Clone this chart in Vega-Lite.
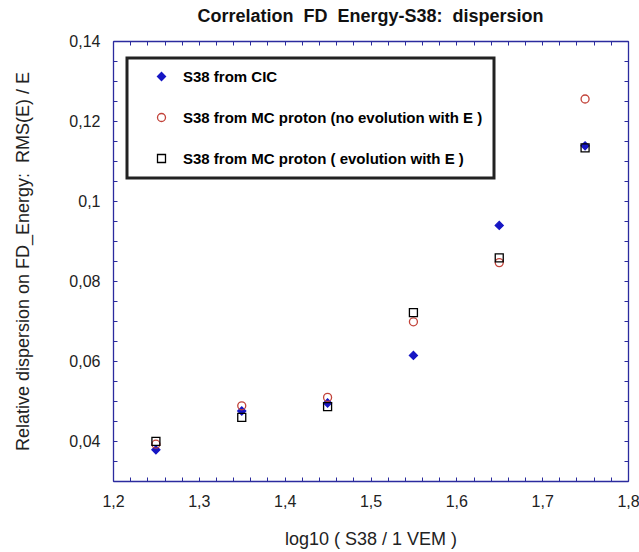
{
  "$schema": "https://vega.github.io/schema/vega-lite/v6.json",
  "width": 515,
  "height": 440,
  "autosize": "none",
  "padding": {"left": 113, "top": 41, "right": 11, "bottom": 71},
  "background": "white",
  "title": {
    "text": "Correlation\u00a0 FD\u00a0 Energy-S38:\u00a0 dispersion",
    "font": "Liberation Sans",
    "fontSize": 18,
    "fontWeight": "bold",
    "color": "#111111",
    "offset": 21,
    "dy": 28,
    "anchor": "middle",
    "baseline": "alphabetic"
  },
  "data": {
    "values": [
      {"series": "S38 from CIC", "x": 1.25, "y": 0.0378},
      {"series": "S38 from CIC", "x": 1.35, "y": 0.0475},
      {"series": "S38 from CIC", "x": 1.45, "y": 0.0495},
      {"series": "S38 from CIC", "x": 1.55, "y": 0.0614},
      {"series": "S38 from CIC", "x": 1.65, "y": 0.0939},
      {"series": "S38 from CIC", "x": 1.75, "y": 0.1138},
      {"series": "S38 from MC proton (no evolution with E )", "x": 1.25, "y": 0.0392},
      {"series": "S38 from MC proton (no evolution with E )", "x": 1.35, "y": 0.0488},
      {"series": "S38 from MC proton (no evolution with E )", "x": 1.45, "y": 0.0509},
      {"series": "S38 from MC proton (no evolution with E )", "x": 1.55, "y": 0.0698},
      {"series": "S38 from MC proton (no evolution with E )", "x": 1.65, "y": 0.0846},
      {"series": "S38 from MC proton (no evolution with E )", "x": 1.75, "y": 0.1255},
      {"series": "S38 from MC proton ( evolution with E )", "x": 1.25, "y": 0.0399},
      {"series": "S38 from MC proton ( evolution with E )", "x": 1.35, "y": 0.0459},
      {"series": "S38 from MC proton ( evolution with E )", "x": 1.45, "y": 0.0486},
      {"series": "S38 from MC proton ( evolution with E )", "x": 1.55, "y": 0.0721},
      {"series": "S38 from MC proton ( evolution with E )", "x": 1.65, "y": 0.0858},
      {"series": "S38 from MC proton ( evolution with E )", "x": 1.75, "y": 0.1133}
    ]
  },
  "encoding": {
    "shape": {
      "field": "series", "type": "nominal",
      "scale": {"domain": ["S38 from CIC", "S38 from MC proton (no evolution with E )", "S38 from MC proton ( evolution with E )"], "range": ["diamond", "circle", "square"]},
      "legend": {"title": null}
    },
    "stroke": {
      "field": "series", "type": "nominal",
      "scale": {"domain": ["S38 from CIC", "S38 from MC proton (no evolution with E )", "S38 from MC proton ( evolution with E )"], "range": ["#1616c4", "#c2433a", "#000000"]},
      "legend": {"title": null}
    },
    "fill": {
      "field": "series", "type": "nominal",
      "scale": {"domain": ["S38 from CIC", "S38 from MC proton (no evolution with E )", "S38 from MC proton ( evolution with E )"], "range": ["#1616c4", "transparent", "transparent"]},
      "legend": {
        "title": null,
        "encode": {
          "labels": {
            "update": {
              "fill": {"signal": "datum.value === 'S38 from CIC' ? '#2424b0' : (datum.value === 'S38 from MC proton (no evolution with E )' ? '#c8201e' : '#151515')"}
            }
          }
        }
      }
    },
    "size": {
      "field": "series", "type": "nominal",
      "scale": {"domain": ["S38 from CIC", "S38 from MC proton (no evolution with E )", "S38 from MC proton ( evolution with E )"], "range": [64, 64, 90]},
      "legend": {"title": null}
    }
  },
  "layer": [
    {
      "transform": [{"filter": "datum.series === 'S38 from CIC'"}],
      "mark": {"type": "point", "strokeWidth": 1.3, "opacity": 1},
      "encoding": {
        "x": {
          "field": "x", "type": "quantitative",
          "scale": {"domain": [1.2, 1.8], "nice": false, "zero": false},
          "axis": {
            "orient": "bottom",
            "values": [1.2,1.22,1.24,1.26,1.28,1.3,1.32,1.34,1.36,1.38,1.4,1.42,1.44,1.46,1.48,1.5,1.52,1.54,1.56,1.58,1.6,1.62,1.64,1.66,1.68,1.7,1.72,1.74,1.76,1.78,1.8],
            "tickSize": -4,
            "labelPadding": 16,
            "labelFlush": false,
            "labelOverlap": false,
            "labelExpr": "abs(datum.value*10-round(datum.value*10))<0.000001 ? replace(''+datum.value,'.',',') : ''",
            "title": "log10 ( S38 / 1 VEM )",
            "titlePadding": 21,
            "encode": {"ticks": {"update": {"y2": {"signal": "abs(datum.value*10-round(datum.value*10))<0.000001 ? -8 : -4"}}}}
          }
        },
        "y": {
          "field": "y", "type": "quantitative",
          "scale": {"domain": [0.03, 0.14], "nice": false, "zero": false},
          "axis": {
            "orient": "left",
            "values": [0.03,0.035,0.04,0.045,0.05,0.055,0.06,0.065,0.07,0.075,0.08,0.085,0.09,0.095,0.1,0.105,0.11,0.115,0.12,0.125,0.13,0.135,0.14],
            "tickSize": -4,
            "labelPadding": 17,
            "labelFlush": false,
            "labelOverlap": false,
            "labelExpr": "datum.value > 0.036 && abs(datum.value*50-round(datum.value*50))<0.000001 ? replace(''+datum.value,'.',',') : ''",
            "title": "Relative dispersion on FD_Energy:\u00a0 RMS(E) / E",
            "titlePadding": 36,
            "encode": {"ticks": {"update": {"x2": {"signal": "abs(datum.value*50-round(datum.value*50))<0.000001 ? 8 : 4"}}}}
          }
        }
      }
    },
    {
      "transform": [{"filter": "datum.series !== 'S38 from CIC'"}],
      "mark": {"type": "point", "strokeWidth": 1.3, "opacity": 1},
      "encoding": {
        "x": {
          "field": "x", "type": "quantitative",
          "scale": {"domain": [1.2, 1.8], "nice": false, "zero": false},
          "axis": {
            "orient": "top",
            "values": [1.2,1.22,1.24,1.26,1.28,1.3,1.32,1.34,1.36,1.38,1.4,1.42,1.44,1.46,1.48,1.5,1.52,1.54,1.56,1.58,1.6,1.62,1.64,1.66,1.68,1.7,1.72,1.74,1.76,1.78,1.8],
            "tickSize": -4,
            "labels": false,
            "title": null,
            "encode": {"ticks": {"update": {"y2": {"signal": "abs(datum.value*10-round(datum.value*10))<0.000001 ? 8 : 4"}}}}
          }
        },
        "y": {
          "field": "y", "type": "quantitative",
          "scale": {"domain": [0.03, 0.14], "nice": false, "zero": false},
          "axis": {
            "orient": "right",
            "values": [0.03,0.035,0.04,0.045,0.05,0.055,0.06,0.065,0.07,0.075,0.08,0.085,0.09,0.095,0.1,0.105,0.11,0.115,0.12,0.125,0.13,0.135,0.14],
            "tickSize": -4,
            "labels": false,
            "title": null,
            "encode": {"ticks": {"update": {"x2": {"signal": "abs(datum.value*50-round(datum.value*50))<0.000001 ? -8 : -4"}}}}
          }
        }
      }
    }
  ],
  "resolve": {"axis": {"x": "independent", "y": "independent"}},
  "config": {
    "view": {"stroke": null},
    "axis": {
      "grid": false,
      "labelFont": "Liberation Sans",
      "labelFontSize": 16,
      "labelColor": "#222222",
      "titleFont": "Liberation Sans",
      "titleFontSize": 18,
      "titleFontWeight": "normal",
      "titleColor": "#222222",
      "domainColor": "#2b2b9e",
      "domainWidth": 1.3,
      "tickColor": "#2b2b9e",
      "tickWidth": 1
    },
    "legend": {
      "orient": "none",
      "legendX": 14,
      "legendY": 17,
      "padding": 11,
      "fillColor": "white",
      "strokeColor": "#222222",
      "strokeWidth": 3,
      "labelFont": "Liberation Sans",
      "labelFontSize": 15,
      "labelFontWeight": "bold",
      "labelLimit": 500,
      "rowPadding": 25,
      "symbolOffset": 16,
      "labelOffset": 14,
      "symbolStrokeWidth": 1.3
    }
  }
}
